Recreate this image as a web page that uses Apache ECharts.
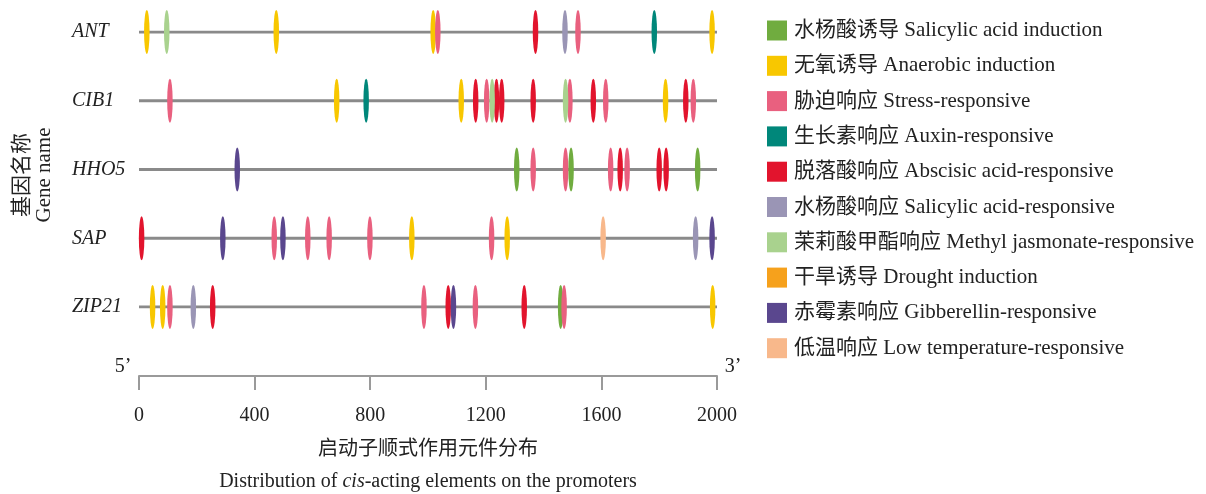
<!DOCTYPE html>
<html><head><meta charset="utf-8">
<script src="https://cdn.jsdelivr.net/npm/echarts@6/dist/echarts.min.js"></script>
<style>html,body{margin:0;padding:0;background:#fff}#c{width:1206px;height:494px}</style>
</head><body><div id="c"></div>
<script>
const genes = ['ANT', 'CIB1', 'HHO5', 'SAP', 'ZIP21'];
const xTicks = [0, 400, 800, 1200, 1600, 2000];
const typeNames = [
  '水杨酸诱导 Salicylic acid induction',
  '无氧诱导 Anaerobic induction',
  '胁迫响应 Stress-responsive',
  '生长素响应 Auxin-responsive',
  '脱落酸响应 Abscisic acid-responsive',
  '水杨酸响应 Salicylic acid-responsive',
  '茉莉酸甲酯响应 Methyl jasmonate-responsive',
  '干旱诱导 Drought induction',
  '赤霉素响应 Gibberellin-responsive',
  '低温响应 Low temperature-responsive'
];
const typeColors = ['#70ac3f', '#f8c700', '#e9607f', '#00877a', '#e2142d', '#9a95b5', '#a9d28e', '#f6a11c', '#5a478e', '#f8b88b'];
// element positions per type, [gene, position]
const saInduction = [['HHO5', 1307], ['HHO5', 1495], ['HHO5', 1933], ['ZIP21', 1459]];
const anaerobic = [['ANT', 27], ['ANT', 475], ['ANT', 1018], ['ANT', 1983], ['CIB1', 684], ['CIB1', 1115], ['CIB1', 1822], ['SAP', 944], ['SAP', 1274], ['ZIP21', 47], ['ZIP21', 82], ['ZIP21', 1985]];
const stress = [['ANT', 1034], ['ANT', 1519], ['CIB1', 107], ['CIB1', 1203], ['CIB1', 1491], ['CIB1', 1615], ['CIB1', 1918], ['HHO5', 1364], ['HHO5', 1476], ['HHO5', 1632], ['HHO5', 1689], ['SAP', 468], ['SAP', 584], ['SAP', 658], ['SAP', 799], ['SAP', 1220], ['ZIP21', 107], ['ZIP21', 986], ['ZIP21', 1164], ['ZIP21', 1471]];
const auxin = [['ANT', 1783], ['CIB1', 786]];
const aba = [['ANT', 1372], ['CIB1', 1165], ['CIB1', 1237], ['CIB1', 1255], ['CIB1', 1364], ['CIB1', 1572], ['CIB1', 1892], ['HHO5', 1665], ['HHO5', 1800], ['HHO5', 1824], ['SAP', 9], ['ZIP21', 255], ['ZIP21', 1070], ['ZIP21', 1333]];
const saResponsive = [['ANT', 1474], ['SAP', 1926], ['ZIP21', 188]];
const meja = [['ANT', 96], ['CIB1', 1222], ['CIB1', 1476]];
const drought = [];
const gibberellin = [['HHO5', 340], ['SAP', 290], ['SAP', 498], ['SAP', 1983], ['ZIP21', 1088]];
const lowTemp = [['SAP', 1606]];
const typeData = [saInduction, anaerobic, stress, auxin, aba, saResponsive, meja, drought, gibberellin, lowTemp];

const FONT = '"Liberation Serif", "Noto Sans CJK SC", serif';
const ELLIPSE = 'path://M0,1 A1,1 0 1,1 2,1 A1,1 0 1,1 0,1 Z';

const chart = echarts.init(document.getElementById('c'), null, {renderer: 'canvas'});
const series = [];
genes.forEach(g => {
  series.push({
    type: 'line', name: 'line-' + g, data: [[xTicks[0], g], [xTicks[xTicks.length - 1], g]],
    symbol: 'none', silent: true, z: 1,
    lineStyle: {color: '#8a8a8a', width: 3}
  });
});
typeNames.forEach((n, i) => {
  series.push({
    type: 'scatter', name: n, z: 3,
    data: typeData[i].map(d => [d[1], d[0]]),
    symbol: ELLIPSE, symbolSize: [5.5, 44], symbolKeepAspect: false,
    itemStyle: {color: typeColors[i], opacity: 1},
    emphasis: {disabled: true}
  });
});

chart.setOption({
  animation: false,
  grid: {left: 139, right: 489, top: 32, bottom: 187, outerBoundsMode: 'none', containLabel: false},
  xAxis: {
    type: 'value', min: 0, max: 2000, interval: 400, position: 'bottom', offset: 69,
    axisLine: {show: true, lineStyle: {color: '#9a9a9a', width: 2}},
    axisTick: {show: true, length: 14, lineStyle: {color: '#9a9a9a', width: 2}},
    splitLine: {show: false},
    axisLabel: {margin: 30, fontFamily: FONT, fontSize: 20, color: '#222', formatter: v => String(v)},
    name: '启动子顺式作用元件分布\n{n|Distribution of }{i|cis}{n|-acting elements on the promoters}',
    nameLocation: 'middle', nameGap: 58,
    nameTextStyle: {fontFamily: FONT, fontSize: 20, color: '#222', lineHeight: 32,
      rich: {n: {fontFamily: FONT, fontSize: 20, color: '#222'}, i: {fontFamily: FONT, fontSize: 20, color: '#222', fontStyle: 'italic'}}}
  },
  yAxis: {
    type: 'category', data: genes, inverse: true, boundaryGap: false,
    axisLine: {show: false}, axisTick: {show: false}, splitLine: {show: false},
    axisLabel: {align: 'left', margin: 67, fontFamily: FONT, fontSize: 20, fontStyle: 'italic', color: '#222'}
  },
  legend: {
    orient: 'vertical', left: 762, top: 15, itemWidth: 20, itemHeight: 20, itemGap: 14.3,
    icon: 'rect', selectedMode: false, data: typeNames,
    textStyle: {fontFamily: FONT, fontSize: 21, color: '#222', padding: [0, 0, 0, 2]}
  },
  graphic: [
    {type: 'text', x: 33, y: 175, rotation: Math.PI / 2,
      style: {text: '基因名称\nGene name', font: '21px ' + FONT, fill: '#222', align: 'center', verticalAlign: 'middle', lineHeight: 22}},
    {type: 'text', x: 123, y: 367, style: {text: '5’', font: '20px ' + FONT, fill: '#222', align: 'center', verticalAlign: 'middle'}},
    {type: 'text', x: 733, y: 367, style: {text: '3’', font: '20px ' + FONT, fill: '#222', align: 'center', verticalAlign: 'middle'}}
  ],
  series: series
});
</script></body></html>
